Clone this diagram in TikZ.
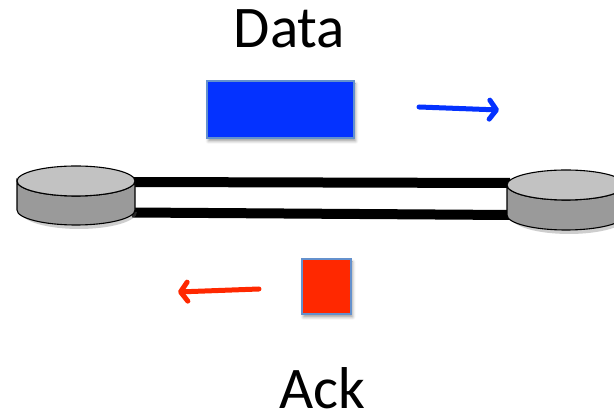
\documentclass[tikz,border=0pt]{standalone}
\usepackage{fontspec}
\setmainfont{Carlito}
\usetikzlibrary{arrows.meta,shadows.blur}

\definecolor{datablue}{RGB}{4,50,255}
\definecolor{ackred}{RGB}{255,40,0}
\definecolor{rim}{RGB}{100,145,205}
\definecolor{disktop}{RGB}{194,194,194}
\definecolor{diskside}{RGB}{154,154,154}

\tikzset{
  x=1pt, y=1pt,
  label text/.style={font=\fontsize{59}{60}\selectfont, anchor=base, inner sep=0pt},
  packet/.style={draw=rim, line width=1.3pt, inner sep=0pt,
    blur shadow={shadow xshift=1.5pt, shadow yshift=-3pt, shadow blur radius=3pt, shadow opacity=40}},
  flow/.style={line width=5pt, line cap=round, line join=round,
    -{Straight Barb[length=7pt, width=19pt, round]}},
  link/.style={line width=10pt, black},
  diskline/.style={line width=1.1pt, black},
}

% a disk drawn as a short cylinder: centre x, y of top face, x radius, y radius, height
\newcommand{\disk}[5]{%
  \fill[black!55, opacity=0.35] (#1-#3+4, #2-#5-2) -- (#1+#3+2, #2-#5-2)
    arc[start angle=0, end angle=-180, x radius=#3-1, y radius=#4+2] -- cycle;
  \filldraw[diskline, fill=diskside] (#1-#3, #2) -- (#1-#3, #2-#5)
    arc[start angle=180, end angle=360, x radius=#3, y radius=#4]
    -- (#1+#3, #2) arc[start angle=0, end angle=-180, x radius=#3, y radius=#4] -- cycle;
  \filldraw[diskline, fill=disktop] (#1, #2) ellipse[x radius=#3, y radius=#4];
}

\begin{document}
\begin{tikzpicture}
  \useasboundingbox (0,0) rectangle (614,420);
  \clip (0,0) rectangle (614,420);

  % the two wires between the hosts
  \coordinate (up1) at (132,238);
  \coordinate (up2) at (510,237);
  \coordinate (lo1) at (132,207.5);
  \coordinate (lo2) at (510,205);
  \draw[link] (up1) -- (up2);
  \draw[link] (lo1) -- (lo2);

  % hosts
  \disk{76}{239}{59}{15}{29}
  \disk{566}{235}{59}{15}{30}

  % data packet going right
  \node[packet, fill=datablue, minimum width=147pt, minimum height=57pt] (data) at (280.5,310.5) {};
  \coordinate (d1) at (419,313);
  \coordinate (d2) at (499,310);
  \draw[flow, datablue] (d1) -- (d2);

  % acknowledgement going left
  \node[packet, fill=ackred, minimum width=49pt, minimum height=55pt] (ack) at (326.5,133.5) {};
  \coordinate (a1) at (259,131);
  \coordinate (a2) at (178,128);
  \draw[flow, ackred] (a1) -- (a2);

  % labels
  \node[label text] (datalabel) at (289.5,372) {Data};
  \node[label text] (acklabel) at (322,11) {Ack};
\end{tikzpicture}
\end{document}
